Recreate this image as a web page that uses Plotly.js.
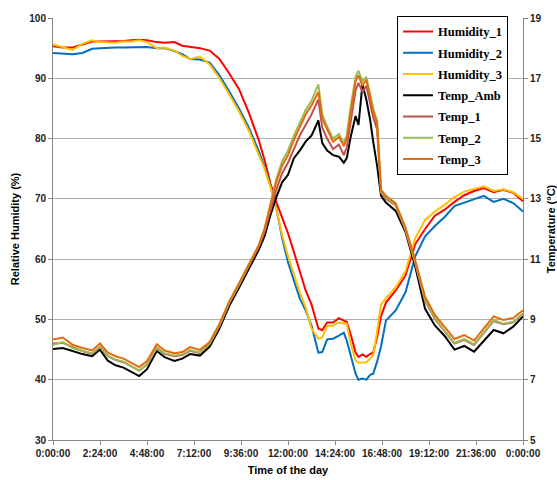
<!DOCTYPE html>
<html>
<head>
<meta charset="utf-8">
<script src="https://cdn.plot.ly/plotly-3.0.1.min.js"></script>
<style>html,body{margin:0;padding:0;background:#fff;}</style>
</head>
<body>
<div id="chart" style="width:557px;height:480px;"></div>
<script>
// time of day, hours
var hours = [0,0.5,1,1.5,2,2.4,2.8,3.2,3.6,4,4.4,4.8,5.3,5.7,6.2,6.6,7,7.5,8,8.5,9,9.5,10,10.5,10.8,11.1,11.4,11.7,12,12.3,12.6,12.9,13.2,13.55,13.75,14,14.3,14.6,14.85,15.0,15.2,15.45,15.6,15.8,16.0,16.2,16.35,16.55,16.75,17.0,17.5,18.0,18.5,19.0,19.5,20.0,20.5,21.0,21.5,22.0,22.5,23.0,23.5,24.0];

var humidity1 = [95.3,95.1,95.1,95.6,96.1,96.1,96.1,96.2,96.2,96.3,96.4,96.3,96.0,95.9,96.0,95.4,95.2,95.0,
  94.6,93.2,90.8,88.2,84.3,79.8,76.5,72.6,69.5,66.8,64.3,61.2,58.0,54.8,52.5,48.5,48.2,49.5,49.5,50.2,
  49.8,49.6,47.5,44.5,43.8,44.2,43.8,44.3,44.5,47.0,50.5,52.8,54.8,57.3,62.5,65.0,67.2,68.2,69.5,70.6,
  71.3,71.8,71.1,71.5,71.0,69.6];
var humidity2 = [94.2,94.1,94.0,94.2,94.9,95.0,95.1,95.1,95.1,95.1,95.2,95.2,95.0,95.0,94.5,94.0,93.2,93.1,
  92.6,90.5,87.8,85.0,81.8,78.0,75.3,72.2,68.5,63.5,59.5,56.5,53.5,51.5,49.0,44.5,44.6,46.7,46.8,47.3,
  47.8,46.5,44.0,41.0,40.0,40.2,40.0,40.8,41.0,43.0,45.5,49.8,51.5,54.5,60.5,63.8,65.5,67.0,68.8,69.4,
  70.0,70.5,69.5,70.0,69.3,67.9];
var humidity3 = [95.6,95.2,94.7,95.7,96.3,96.0,96.0,95.9,96.1,96.1,96.3,96.0,95.0,95.1,94.6,93.7,93.2,93.6,
  92.3,90.0,87.3,84.5,81.3,77.5,75.0,72.0,68.3,64.0,60.5,57.5,54.5,52.0,48.5,46.8,47.0,48.9,49.0,49.5,
  49.4,49.3,46.0,43.2,42.8,42.8,42.9,43.5,44.0,48.0,52.5,53.5,55.3,58.0,63.5,66.5,67.9,69.0,70.3,71.2,
  71.6,72.1,71.3,71.6,71.1,70.0];

var tempAmb = [8.02,8.05,7.95,7.85,7.78,8.00,7.63,7.48,7.40,7.25,7.12,7.35,7.95,7.75,7.62,7.70,7.85,7.80,
  8.1,8.7,9.45,10.05,10.7,11.3,11.75,12.45,13.05,13.55,13.8,14.35,14.6,14.9,15.1,15.6,14.85,14.6,14.45,14.4,
  14.2,14.35,15.05,15.75,15.45,16.8,16.3,15.6,14.9,14.1,13.1,12.88,12.60,11.90,10.75,9.35,8.80,8.45,8.00,8.12,
  7.93,8.30,8.65,8.54,8.76,9.10];
var temp1 = [8.20,8.22,8.08,7.95,7.86,8.08,7.78,7.65,7.58,7.44,7.30,7.50,8.05,7.86,7.78,7.82,7.96,7.88,
  8.2,8.8,9.55,10.15,10.8,11.4,11.9,12.6,13.3,13.85,14.2,14.65,15.1,15.45,15.8,16.3,15.35,15.0,14.65,14.8,
  14.45,14.7,15.6,16.6,16.85,16.55,16.75,16.1,15.7,15.3,13.2,13.0,12.78,11.95,10.85,9.62,9.02,8.60,8.20,8.32,
  8.15,8.55,8.95,8.84,8.90,9.18];
var temp2 = [8.16,8.25,8.05,7.95,7.88,8.10,7.80,7.66,7.60,7.45,7.30,7.52,8.08,7.88,7.80,7.84,7.98,7.90,
  8.2,8.8,9.55,10.15,10.8,11.45,12.0,12.85,13.65,14.25,14.6,15.1,15.55,15.95,16.25,16.8,15.8,15.4,15.0,15.15,
  14.85,15.1,16.05,17.05,17.25,16.9,17.05,16.4,16.0,15.6,13.25,13.05,12.80,12.00,10.90,9.65,9.05,8.62,8.22,8.35,
  8.18,8.58,8.98,8.86,8.92,9.20];
var temp3 = [8.33,8.40,8.16,8.05,7.97,8.20,7.90,7.78,7.70,7.55,7.42,7.62,8.18,7.97,7.88,7.92,8.08,7.99,
  8.25,8.85,9.6,10.2,10.85,11.45,12.0,12.8,13.55,14.1,14.45,14.95,15.4,15.8,16.1,16.55,15.65,15.3,14.9,15.05,
  14.75,15.0,15.9,16.9,17.1,16.75,16.95,16.3,15.9,15.5,13.3,13.1,12.85,12.05,10.95,9.75,9.15,8.75,8.35,8.48,
  8.30,8.70,9.10,8.98,9.05,9.30];

var tickHours = [0,2.4,4.8,7.2,9.6,12,14.4,16.8,19.2,21.6,24];
var tickLabels = ["0:00:00","2:24:00","4:48:00","7:12:00","9:36:00","12:00:00","14:24:00","16:48:00","19:12:00","21:36:00","0:00:00"];

var series = [
  {name:"Humidity_1", y:humidity1, color:"#FF0000", axis:"y"},
  {name:"Humidity_2", y:humidity2, color:"#0070C0", axis:"y"},
  {name:"Humidity_3", y:humidity3, color:"#FFC000", axis:"y"},
  {name:"Temp_Amb", y:tempAmb, color:"#000000", axis:"y2"},
  {name:"Temp_1", y:temp1, color:"#C0504D", axis:"y2"},
  {name:"Temp_2", y:temp2, color:"#9BBB59", axis:"y2"},
  {name:"Temp_3", y:temp3, color:"#E46C0A", axis:"y2"}
];

var traces = series.map(function(s){
  return {x:hours, y:s.y, name:s.name, legendgroup:s.name, yaxis:s.axis, type:"scatter", mode:"lines",
          line:{color:s.color, width:2}};
});

var tickFont = {family:"Liberation Sans, Arial, sans-serif", size:10, color:"#222", weight:"bold"};
var titleFont = {family:"Liberation Sans, Arial, sans-serif", size:11, color:"#000", weight:"bold"};

var layout = {
  width:557, height:480,
  margin:{l:53, r:34, t:18, b:40},
  paper_bgcolor:"#fff", plot_bgcolor:"#fff",
  showlegend:true,
  legend:{x:0.732, y:1.005, xanchor:"left", yanchor:"top",
          bgcolor:"#fff", bordercolor:"#000", borderwidth:1,
          font:{family:"Liberation Serif, Times New Roman, serif", size:12.5, color:"#000", weight:"bold"},
          traceorder:"grouped", tracegroupgap:2, itemwidth:30},
  xaxis:{range:[0,24], tickmode:"array", tickvals:tickHours, ticktext:tickLabels,
         showgrid:false, zeroline:false, showline:true, linecolor:"#888", linewidth:1,
         ticks:"outside", ticklen:4, tickcolor:"#888", tickfont:tickFont,
         title:{text:"Time of the day", font:titleFont, standoff:8}},
  yaxis:{range:[30,100], dtick:10, tick0:30, showgrid:true, gridcolor:"#b0b0b0", gridwidth:1,
         zeroline:false, showline:true, linecolor:"#888", linewidth:1,
         ticks:"outside", ticklen:4, tickcolor:"#888", tickfont:tickFont,
         title:{text:"Relative Humidity (%)", font:titleFont, standoff:7}},
  yaxis2:{range:[5,19], dtick:2, tick0:5, overlaying:"y", side:"right", showgrid:false,
          zeroline:false, showline:true, linecolor:"#888", linewidth:1,
          ticks:"outside", ticklen:4, tickcolor:"#888", tickfont:tickFont,
          title:{text:"Temperature (°C)", font:titleFont, standoff:8}}
};

Plotly.newPlot("chart", traces, layout, {displayModeBar:false, staticPlot:true});
</script>
</body>
</html>
